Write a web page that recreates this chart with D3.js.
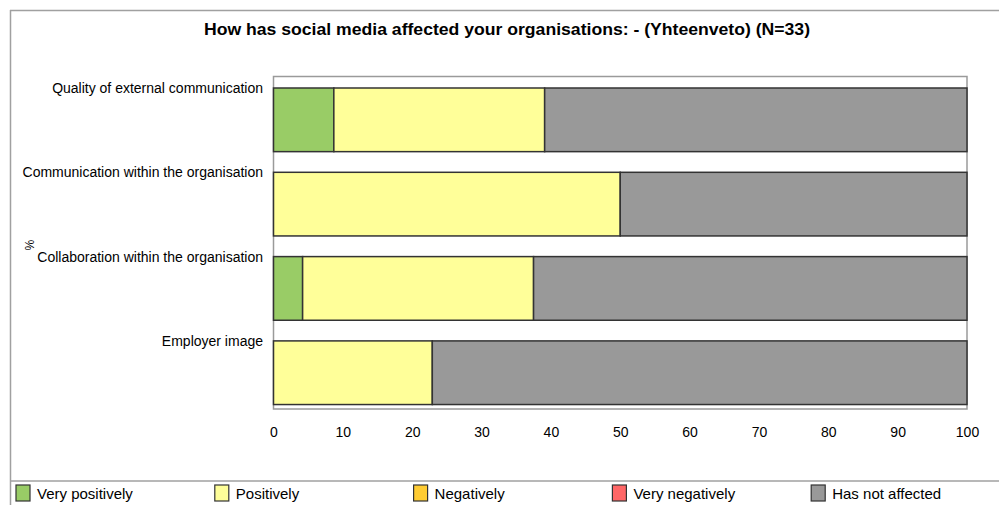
<!DOCTYPE html>
<html>
<head>
<meta charset="utf-8">
<script src="https://cdn.jsdelivr.net/npm/d3@7"></script>
<style>
  html, body { margin: 0; padding: 0; background: #fff; }
  svg { display: block; }
  text { font-family: "Liberation Sans", Arial, sans-serif; fill: #000; }
</style>
</head>
<body>
<svg id="chart" width="999" height="505"></svg>
<script>
// Response categories (bar rows, top to bottom)
const categories = [
  "Quality of external communication",
  "Communication within the organisation",
  "Collaboration within the organisation",
  "Employer image"
];

// Answer options, in stacking order
const seriesNames = ["Very positively", "Positively", "Negatively", "Very negatively", "Has not affected"];
const seriesColors = ["#99cc66", "#ffff99", "#ffcc33", "#ff6666", "#999999"];

// Percentages for each answer option, one value per category
const veryPositively  = [8.7, 0, 4.2, 0];
const positively      = [30.4, 50, 33.3, 22.9];
const negatively      = [0, 0, 0, 0];
const veryNegatively  = [0, 0, 0, 0];
const hasNotAffected  = [60.9, 50, 62.5, 77.1];

const xTicks = [0, 10, 20, 30, 40, 50, 60, 70, 80, 90, 100];
const titleText = "How has social media affected your organisations:  -  (Yhteenveto) (N=33)";
const axisTitle = "%";

const seriesValues = [veryPositively, positively, negatively, veryNegatively, hasNotAffected];

const rows = categories.map((c, i) => {
  const r = { category: c };
  seriesNames.forEach((s, k) => { r[s] = seriesValues[k][i]; });
  return r;
});

const svg = d3.select("#chart");

// Outer frame lines
svg.append("line").attr("x1", 10).attr("x2", 999).attr("y1", 10.5).attr("y2", 10.5)
  .attr("stroke", "#a0a0a0").attr("stroke-width", 1.5);
svg.append("line").attr("x1", 10.5).attr("x2", 10.5).attr("y1", 10).attr("y2", 505)
  .attr("stroke", "#a0a0a0").attr("stroke-width", 1.5);
svg.append("line").attr("x1", 10).attr("x2", 999).attr("y1", 481).attr("y2", 481)
  .attr("stroke", "#a0a0a0").attr("stroke-width", 1.5);

// Title
svg.append("text")
  .attr("x", 507).attr("y", 35)
  .attr("text-anchor", "middle")
  .attr("font-size", 16).attr("font-weight", "bold")
  .attr("textLength", 606).attr("lengthAdjust", "spacingAndGlyphs")
  .text(titleText);

// Plot area
const plot = { left: 273.5, right: 967, top: 76.5, bottom: 409 };

const x = d3.scaleLinear().domain([0, 100]).range([plot.left, plot.right]);
const y = d3.scaleBand().domain(categories).range([88, 88 + 4 * 84.3]).padding(0);
const barH = y.bandwidth() * 0.755;

// Plot frame
svg.append("rect")
  .attr("x", plot.left).attr("y", plot.top)
  .attr("width", plot.right - plot.left).attr("height", plot.bottom - plot.top)
  .attr("fill", "none").attr("stroke", "#9a9a9a").attr("stroke-width", 1.5);

// Stacked bars
const stack = d3.stack().keys(seriesNames);
const layers = stack(rows);

svg.append("g").selectAll("g")
  .data(layers)
  .join("g")
  .attr("fill", (d, i) => seriesColors[i])
  .selectAll("rect")
  .data(d => d.filter(p => p[1] - p[0] > 0))
  .join("rect")
  .attr("x", p => x(p[0]))
  .attr("y", p => y(p.data.category))
  .attr("width", p => x(p[1]) - x(p[0]))
  .attr("height", barH)
  .attr("stroke", "#333")
  .attr("stroke-width", 1.5);

// Category labels
svg.append("g").selectAll("text")
  .data(categories)
  .join("text")
  .attr("x", 263)
  .attr("y", c => y(c) + 5)
  .attr("text-anchor", "end")
  .attr("font-size", 14)
  .text(c => c);

// X axis tick labels
const xAxis = d3.axisBottom(x).tickValues(xTicks).tickSize(0).tickPadding(0).tickFormat(d3.format("d"));
const gx = svg.append("g").attr("transform", `translate(0, ${plot.bottom + 18})`).call(xAxis);
gx.select(".domain").remove();
gx.selectAll("text").attr("font-size", 14).attr("font-family", "Liberation Sans, Arial, sans-serif").attr("fill", "#000");

// Axis title
svg.append("text")
  .attr("transform", "translate(25, 245) rotate(90)")
  .attr("text-anchor", "middle")
  .attr("font-size", 12)
  .text(axisTitle);

// Legend
const legend = svg.append("g").selectAll("g")
  .data(seriesNames)
  .join("g")
  .attr("transform", (d, i) => `translate(${16 + i * 198.8}, 485)`);
legend.append("rect")
  .attr("width", 14).attr("height", 16)
  .attr("fill", (d, i) => seriesColors[i])
  .attr("stroke", "#333").attr("stroke-width", 1.2);
legend.append("text")
  .attr("x", 21).attr("y", 14)
  .attr("font-size", 15)
  .text(d => d);
</script>
</body>
</html>
